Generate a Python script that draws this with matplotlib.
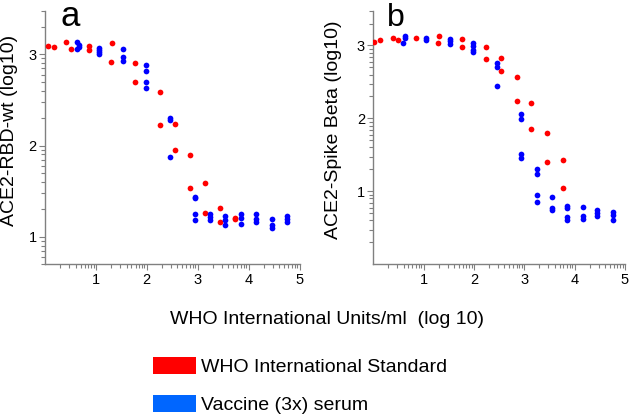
import numpy as np
import matplotlib
matplotlib.use("Agg")
import matplotlib.pyplot as plt
from matplotlib.ticker import LogLocator, FuncFormatter, NullFormatter, FixedLocator
from matplotlib.patches import Patch

plt.rcParams['font.family'] = ['Liberation Sans', 'DejaVu Sans']

# ---- data (log10 values) ----
# Panel a: ACE2-RBD-wt
a_who_x = [0.06, 0.18, 0.42, 0.51, 0.87, 0.87, 1.32, 1.30, 1.77, 1.77, 2.25, 2.25,
           2.55, 2.55, 2.85, 2.85, 3.15, 3.15, 3.44, 3.44, 3.74, 3.74]
a_who_y = [3.09, 3.08, 3.13, 3.06, 3.085, 3.05, 3.12, 2.915, 2.90, 2.70, 2.59, 2.23,
           2.24, 1.95, 1.90, 1.54, 1.59, 1.26, 1.315, 1.165, 1.205, 1.19]
a_vac_x = [0.62, 0.66, 0.63, 0.66, 1.07, 1.07, 1.07, 1.07, 1.53, 1.53, 1.53,
           1.99, 1.99, 1.99, 1.99, 2.46, 2.46, 2.46, 2.95, 2.95, 2.95, 2.95,
           3.25, 3.25, 3.25, 3.54, 3.54, 3.54, 3.85, 3.85, 3.85, 4.15, 4.15, 4.15,
           4.45, 4.45, 4.45, 4.75, 4.75, 4.75]
a_vac_y = [3.13, 3.10, 3.06, 3.08, 3.07, 3.05, 3.03, 3.00, 3.06, 2.97, 2.93,
           2.88, 2.815, 2.70, 2.635, 2.30, 2.285, 1.87, 1.44, 1.43, 1.245, 1.185,
           1.255, 1.22, 1.18, 1.225, 1.185, 1.13, 1.245, 1.21, 1.14, 1.255, 1.20, 1.165,
           1.20, 1.13, 1.10, 1.225, 1.19, 1.165]

# Panel b: ACE2-Spike Beta
b_who_x = [0.02, 0.14, 0.40, 0.49, 0.85, 1.29, 1.31, 1.76, 1.76, 2.24, 2.24,
           2.53, 2.53, 2.85, 2.85, 3.14, 3.14, 3.45, 3.45, 3.76, 3.76]
b_who_y = [3.045, 3.08, 3.105, 3.07, 3.10, 3.04, 3.135, 3.09, 2.985, 2.975, 2.82,
           2.83, 2.645, 2.57, 2.24, 2.215, 1.85, 1.805, 1.40, 1.43, 1.05]
b_vac_x = [0.63, 0.63, 0.59, 1.04, 1.04, 1.52, 1.52, 1.52, 1.98, 1.98, 1.98, 1.98,
           2.46, 2.46, 2.46, 2.93, 2.93, 2.93, 2.93, 3.25, 3.25, 3.25, 3.25,
           3.55, 3.55, 3.55, 3.85, 3.85, 3.85, 3.85, 4.16, 4.16, 4.16,
           4.45, 4.45, 4.45, 4.76, 4.76, 4.76]
b_vac_y = [3.135, 3.105, 3.035, 3.105, 3.075, 3.09, 3.06, 3.015, 3.035, 2.99, 2.945, 2.915,
           2.755, 2.705, 2.45, 2.065, 1.995, 1.51, 1.455, 1.31, 1.235, 0.955, 0.86,
           0.92, 0.77, 0.74, 0.80, 0.77, 0.655, 0.61, 0.785, 0.66, 0.62,
           0.74, 0.70, 0.66, 0.72, 0.68, 0.61]

panel_letters = ['a', 'b']
y_labels = ['ACE2-RBD-wt (log10)', 'ACE2-Spike Beta (log10)']
x_label = 'WHO International Units/ml  (log 10)'
legend_labels = ['WHO International Standard', 'Vaccine (3x) serum']
x_major = [1, 2, 3, 4, 5]
y_major = [1, 2, 3]

RED = '#ff0000'
BLUE = '#0000ff'
LEG_BLUE = '#0066ff'
GRAY = '#808080'

W, H = 630, 416
fig = plt.figure(figsize=(W / 100, H / 100), dpi=100)

def ax_rect(l, r, t, b):
    return [l / W, 1 - b / H, (r - l) / W, (b - t) / H]

axa = fig.add_axes(ax_rect(45, 299.5, 10.7, 264.3))
axb = fig.add_axes(ax_rect(373.3, 625, 10.7, 264.3))

datasets = [
    (axa, a_who_x, a_who_y, a_vac_x, a_vac_y, (5, 3000)),
    (axb, b_who_x, b_who_y, b_vac_x, b_vac_y, (1, 3000)),
]

fmt = FuncFormatter(lambda v, p: f"{int(round(np.log10(v)))}")

for i, (ax, wx, wy, vx, vy, ylim) in enumerate(datasets):
    ax.scatter(10 ** np.array(wx), 10 ** np.array(wy), s=17, color=RED, lw=0, zorder=3)
    ax.scatter(10 ** np.array(vx), 10 ** np.array(vy), s=17, color=BLUE, lw=0, zorder=3)
    ax.set_xscale('log')
    ax.set_yscale('log')
    ax.set_xlim(1, 1e5)
    ax.set_ylim(*ylim)
    ax.xaxis.set_major_locator(FixedLocator([10.0 ** k for k in x_major]))
    ax.yaxis.set_major_locator(FixedLocator([10.0 ** k for k in y_major]))
    ax.xaxis.set_minor_locator(LogLocator(base=10, subs=np.arange(2, 10), numticks=20))
    ax.yaxis.set_minor_locator(LogLocator(base=10, subs=np.arange(2, 10), numticks=20))
    ax.xaxis.set_major_formatter(fmt)
    ax.yaxis.set_major_formatter(fmt)
    ax.xaxis.set_minor_formatter(NullFormatter())
    ax.yaxis.set_minor_formatter(NullFormatter())
    for s in ['top', 'right']:
        ax.spines[s].set_visible(False)
    for s in ['left', 'bottom']:
        ax.spines[s].set_color(GRAY)
        ax.spines[s].set_linewidth(1.0)
    ax.tick_params(which='major', length=4, width=0.8, color=GRAY, labelsize=10.5, pad=2)
    ax.tick_params(which='minor', length=3, width=0.8, color=GRAY)
    ax.set_facecolor('none')

# y labels
fig.text(10 / W, 1 - 130 / H, y_labels[0], rotation=90, ha='center', va='center', fontsize=14)
fig.text(333 / W, 1 - 130 / H, y_labels[1], rotation=90, ha='center', va='center', fontsize=14)

# panel letters
fig.text(60 / W, 1 - 25.5 / H, panel_letters[0], ha='left', va='baseline', fontsize=25)
fig.text(387 / W, 1 - 25.5 / H, panel_letters[1], ha='left', va='baseline', fontsize=23)

# x label
fig.text(170 / W, 1 - 320 / H, x_label, ha='left', va='center', fontsize=14)

# legend
handles = [Patch(facecolor=RED, edgecolor='none'), Patch(facecolor=LEG_BLUE, edgecolor='none')]
fig.legend(handles, legend_labels, loc='upper left', bbox_to_anchor=(147 / W, 1 - 351 / H),
           frameon=False, fontsize=14, handlelength=2.2, handleheight=0.98,
           handletextpad=0.3, labelspacing=0.95, borderpad=0.3, borderaxespad=0)

fig.savefig('out.png', dpi=100)
